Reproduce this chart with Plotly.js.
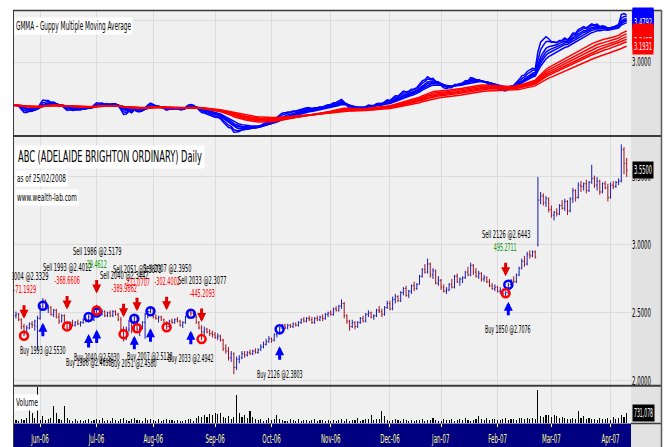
<!DOCTYPE html>
<html>
<head>
<meta charset="utf-8">
<script src="https://cdn.plot.ly/plotly-3.0.1.min.js"></script>
<style>html,body{margin:0;padding:0;background:#fff;}#chart{width:666px;height:447px;}</style>
</head>
<body>
<div id="chart"></div>
<script>
// ---------- DATA ----------
const startDate = '2006-05-18';
const endDate = '2007-04-12';
const holidays = ['2006-06-12','2006-12-25','2006-12-26','2007-01-01','2007-01-26','2007-04-06','2007-04-09'];

const tickDates = ['2006-06-01','2006-07-03','2006-08-01','2006-09-01','2006-10-02','2006-11-01','2006-12-01','2007-01-02','2007-02-01','2007-03-01','2007-04-02'];
const tickLabels = ['Jun-06','Jul-06','Aug-06','Sep-06','Oct-06','Nov-06','Dec-06','Jan-07','Feb-07','Mar-07','Apr-07'];

const openP = [
2.47,2.48,2.49,2.45,2.40,2.35,2.39,2.42,2.41,2.40,
2.46,2.55,2.59,2.53,2.54,2.49,2.52,2.47,2.44,2.48,
2.42,2.39,2.43,2.41,2.43,2.42,2.43,2.45,2.44,2.47,
2.45,2.51,2.54,2.50,2.51,2.48,2.50,2.48,2.51,2.49,
2.45,2.38,2.31,2.38,2.44,2.37,2.47,2.38,2.40,2.43,
2.49,2.51,2.53,2.47,2.46,2.47,2.45,2.42,2.40,2.44,
2.43,2.45,2.44,2.41,2.43,2.47,2.51,2.50,2.47,2.43,
2.39,2.36,2.38,2.36,2.35,2.34,2.32,2.33,2.30,2.24,
2.22,2.17,2.20,2.10,2.16,2.17,2.20,2.19,2.21,2.20,
2.22,2.21,2.23,2.25,2.27,2.29,2.31,2.30,2.34,2.35,
2.39,2.41,2.39,2.41,2.40,2.42,2.41,2.43,2.45,2.44,
2.46,2.45,2.43,2.46,2.45,2.47,2.46,2.49,2.50,2.49,
2.53,2.52,2.55,2.57,2.48,2.44,2.40,2.43,2.40,2.43,
2.46,2.44,2.49,2.50,2.47,2.48,2.52,2.51,2.49,2.54,
2.57,2.53,2.60,2.62,2.59,2.65,2.68,2.63,2.66,2.70,
2.68,2.71,2.77,2.82,2.80,2.86,2.78,2.81,2.72,2.74,
2.69,2.66,2.67,2.71,2.69,2.77,2.73,2.75,2.76,2.80,
2.78,2.85,2.80,2.77,2.79,2.75,2.76,2.73,2.70,2.68,
2.69,2.66,2.67,2.64,2.65,2.71,2.74,2.73,2.78,2.83,
2.88,2.86,2.93,2.92,2.95,3.00,3.33,3.36,3.31,3.34,
3.26,3.22,3.24,3.23,3.29,3.27,3.32,3.25,3.34,3.40,
3.35,3.44,3.43,3.45,3.40,3.46,3.49,3.44,3.47,3.39,
3.45,3.42,3.35,3.44,3.43,3.46,3.47,3.70,3.60];

const highP = [
2.50,2.51,2.50,2.46,2.42,2.41,2.43,2.44,2.45,2.48,
2.56,2.61,2.60,2.56,2.55,2.53,2.53,2.50,2.49,2.49,
2.44,2.44,2.45,2.44,2.45,2.44,2.46,2.47,2.49,2.50,
2.52,2.56,2.55,2.53,2.52,2.51,2.52,2.52,2.52,2.50,
2.47,2.40,2.40,2.45,2.46,2.48,2.48,2.42,2.44,2.50,
2.52,2.55,2.54,2.49,2.48,2.48,2.46,2.44,2.45,2.46,
2.46,2.47,2.45,2.44,2.48,2.52,2.53,2.51,2.49,2.44,
2.41,2.40,2.39,2.38,2.37,2.36,2.35,2.34,2.31,2.27,
2.25,2.22,2.21,2.18,2.19,2.22,2.22,2.22,2.23,2.23,
2.24,2.24,2.27,2.29,2.31,2.33,2.32,2.35,2.37,2.40,
2.42,2.42,2.42,2.42,2.43,2.43,2.44,2.46,2.47,2.47,
2.48,2.47,2.47,2.48,2.48,2.49,2.50,2.51,2.52,2.54,
2.55,2.56,2.60,2.58,2.49,2.45,2.45,2.44,2.44,2.47,
2.48,2.50,2.52,2.51,2.49,2.53,2.55,2.53,2.55,2.59,
2.59,2.62,2.64,2.63,2.66,2.69,2.70,2.67,2.71,2.73,
2.72,2.78,2.83,2.86,2.90,2.87,2.83,2.82,2.77,2.75,
2.71,2.69,2.72,2.75,2.78,2.79,2.76,2.77,2.81,2.84,
2.87,2.86,2.83,2.81,2.80,2.78,2.77,2.75,2.72,2.71,
2.70,2.69,2.68,2.66,2.72,2.75,2.77,2.79,2.84,2.90,
2.92,2.95,2.96,2.96,2.96,3.50,3.39,3.38,3.36,3.35,
3.29,3.25,3.27,3.30,3.33,3.34,3.33,3.35,3.42,3.41,
3.46,3.47,3.46,3.48,3.47,3.59,3.51,3.50,3.48,3.46,
3.47,3.45,3.46,3.47,3.47,3.49,3.74,3.72,3.64];

const lowP = [
2.45,2.46,2.44,2.38,2.33,2.34,2.38,2.39,2.37,2.23,
2.45,2.53,2.52,2.50,2.48,2.47,2.46,2.42,2.43,2.40,
2.37,2.38,2.40,2.40,2.41,2.40,2.42,2.43,2.43,2.44,
2.44,2.50,2.49,2.48,2.47,2.47,2.47,2.47,2.48,2.44,
2.36,2.29,2.30,2.36,2.35,2.36,2.37,2.33,2.38,2.31,
2.46,2.50,2.46,2.45,2.43,2.44,2.40,2.38,2.39,2.42,
2.42,2.43,2.40,2.39,2.42,2.46,2.48,2.46,2.42,2.38,
2.30,2.34,2.35,2.33,2.32,2.31,2.30,2.29,2.22,2.20,
2.15,2.14,2.05,2.08,2.13,2.16,2.17,2.18,2.19,2.19,
2.20,2.20,2.22,2.24,2.26,2.28,2.28,2.29,2.32,2.34,
2.38,2.38,2.38,2.39,2.39,2.40,2.40,2.42,2.43,2.43,
2.44,2.42,2.42,2.44,2.44,2.44,2.45,2.47,2.48,2.48,
2.51,2.51,2.53,2.46,2.42,2.37,2.39,2.38,2.39,2.42,
2.43,2.43,2.47,2.46,2.45,2.47,2.50,2.47,2.48,2.53,
2.52,2.52,2.57,2.58,2.58,2.63,2.62,2.61,2.64,2.66,
2.67,2.71,2.76,2.79,2.79,2.76,2.75,2.71,2.70,2.67,
2.65,2.64,2.66,2.68,2.68,2.72,2.70,2.72,2.75,2.77,
2.77,2.78,2.76,2.75,2.73,2.73,2.72,2.69,2.67,2.66,
2.65,2.64,2.63,2.62,2.64,2.70,2.72,2.72,2.77,2.82,
2.84,2.85,2.90,2.91,2.90,2.99,3.30,3.29,3.28,3.24,
3.20,3.18,3.21,3.22,3.26,3.25,3.22,3.24,3.31,3.32,
3.34,3.39,3.40,3.38,3.39,3.45,3.42,3.40,3.37,3.38,
3.41,3.32,3.34,3.41,3.42,3.44,3.46,3.52,3.50];

const closeP = [
2.48,2.49,2.45,2.40,2.35,2.39,2.42,2.41,2.44,2.46,
2.55,2.59,2.53,2.54,2.49,2.52,2.47,2.44,2.48,2.42,
2.39,2.43,2.41,2.43,2.42,2.43,2.45,2.44,2.47,2.45,
2.51,2.54,2.50,2.51,2.48,2.50,2.48,2.51,2.49,2.45,
2.38,2.31,2.38,2.44,2.37,2.47,2.38,2.40,2.43,2.49,
2.51,2.53,2.47,2.46,2.47,2.45,2.42,2.40,2.44,2.43,
2.45,2.44,2.41,2.43,2.47,2.51,2.50,2.47,2.43,2.39,
2.36,2.38,2.36,2.35,2.34,2.32,2.33,2.30,2.24,2.22,
2.17,2.20,2.10,2.16,2.17,2.20,2.19,2.21,2.20,2.22,
2.21,2.23,2.25,2.27,2.29,2.31,2.30,2.34,2.35,2.39,
2.41,2.39,2.41,2.40,2.42,2.41,2.43,2.45,2.44,2.46,
2.45,2.43,2.46,2.45,2.47,2.46,2.49,2.50,2.49,2.53,
2.52,2.55,2.57,2.48,2.44,2.40,2.43,2.40,2.43,2.46,
2.44,2.49,2.50,2.47,2.48,2.52,2.51,2.49,2.54,2.57,
2.53,2.60,2.62,2.59,2.65,2.68,2.63,2.66,2.70,2.68,
2.71,2.77,2.82,2.80,2.86,2.78,2.81,2.72,2.74,2.69,
2.66,2.67,2.71,2.69,2.77,2.73,2.75,2.76,2.80,2.78,
2.85,2.80,2.77,2.79,2.75,2.76,2.73,2.70,2.68,2.69,
2.66,2.67,2.64,2.65,2.71,2.74,2.73,2.78,2.83,2.88,
2.86,2.93,2.92,2.95,2.91,3.33,3.36,3.31,3.34,3.26,
3.22,3.24,3.23,3.29,3.27,3.32,3.25,3.34,3.40,3.35,
3.44,3.43,3.45,3.40,3.46,3.49,3.44,3.47,3.39,3.45,
3.42,3.35,3.44,3.43,3.46,3.47,3.70,3.60,3.55];

// volume in thousands of shares
const volumeK = [
180,240,150,300,220,360,940,720,330,3500,
250,510,220,300,380,1230,720,290,240,1230,380,
200,150,260,180,220,150,250,300,180,220,
280,200,330,150,220,180,350,200,150,260,
330,220,180,290,360,250,200,150,330,240,
300,200,180,260,150,220,300,190,230,160,
250,180,150,220,300,260,180,330,
510,440,580,400,620,550,720,650,720,
430,360,500,290,400,
2050,
720,430,580,360,870,400,260,
220,300,180,250,330,200,260,580,300,220,
180,150,260,220,180,300,150,200,250,180,
220,290,160,200,250,180,220,150,
200,180,220,260,180,300,150,220,250,360,180,220,
260,300,580,220,300,260,870,500,220,180,
250,300,200,180,260,220,150,200,180,250,
220,290,180,250,200,330,220,180,150,260,
200,250,300,180,220,260,200,330,250,180,
220,300,500,260,200,330,220,260,300,250,
200,280,330,220,260,300,250,330,360,280,
330,290,360,300,
2400,
500,440,580,580,400,580,500,330,440,360,290,
300,360,260,870,360,500,290,330,260,
300,220,360,260,300,330,220,400,290,330,580,400,731.078];

const shortPeriods = [3,5,8,10,12,15];
const longPeriods = [30,35,40,45,50,60];

// trades: bar index, shares, price, profit
const buyIdx    = [11, 28, 31, 45, 51, 66, 99, 184];
const buyShares = [1993, 1986, 2040, 2051, 2007, 2033, 2126, 1850];
const buyPrice  = [2.5530, 2.4698, 2.5030, 2.4580, 2.5128, 2.4942, 2.3803, 2.7076];

const sellIdx    = [4, 20, 31, 41, 46, 57, 70, 183];
const sellShares = [2004, 1993, 1986, 2040, 2051, 2007, 2033, 2126];
const sellPrice  = [2.3329, 2.4012, 2.5179, 2.3442, 2.3873, 2.3950, 2.3077, 2.6443];
const sellProfit = [-71.1929, -368.6606, 29.4612, -389.9862, -211.0707, -302.4002, -445.2093, 495.2711];

// ---------- BUILD ----------
function tradingDays(s, e, hol) {
  const out = [];
  const d = new Date(s + 'T00:00:00Z');
  const end = new Date(e + 'T00:00:00Z');
  while (d <= end) {
    const wd = d.getUTCDay();
    const iso = d.toISOString().slice(0, 10);
    if (wd !== 0 && wd !== 6 && hol.indexOf(iso) < 0) out.push(iso);
    d.setUTCDate(d.getUTCDate() + 1);
  }
  return out;
}
const dates = tradingDays(startDate, endDate, holidays);
const volume = volumeK.map(v => Math.round(v * 1000));

function ema(arr, n) {
  const k = 2 / (n + 1);
  const out = [];
  let e = arr[0];
  for (let i = 0; i < arr.length; i++) {
    if (i > 0) e = e + k * (arr[i] - e);
    out.push(e);
  }
  return out;
}

const FONT = '"DejaVu Sans","Liberation Sans",sans-serif';
const BLUE = '#0000ff', RED = '#ff0000';

const traces = [];
shortPeriods.forEach(p => traces.push({
  type: 'scatter', mode: 'lines', x: dates, y: ema(closeP, p), xaxis: 'x', yaxis: 'y',
  line: { color: BLUE, width: 1.5 }, hoverinfo: 'skip'
}));
longPeriods.forEach(p => traces.push({
  type: 'scatter', mode: 'lines', x: dates, y: ema(closeP, p), xaxis: 'x', yaxis: 'y',
  line: { color: RED, width: 1.5 }, hoverinfo: 'skip'
}));
traces.push({
  type: 'ohlc', x: dates, open: openP, high: highP, low: lowP, close: closeP,
  xaxis: 'x2', yaxis: 'y2', tickwidth: 0.35,
  increasing: { line: { color: '#1c1cb4', width: 1 } },
  decreasing: { line: { color: '#a3101e', width: 1 } },
  hoverinfo: 'skip'
});
traces.push({
  type: 'scatter', mode: 'markers', x: buyIdx.map(i => dates[i]), y: buyPrice,
  xaxis: 'x2', yaxis: 'y2',
  marker: { symbol: 'circle-open', size: 8, color: BLUE, line: { width: 2.5 } }, hoverinfo: 'skip'
});
traces.push({
  type: 'scatter', mode: 'markers', x: sellIdx.map(i => dates[i]), y: sellPrice,
  xaxis: 'x2', yaxis: 'y2',
  marker: { symbol: 'circle-open', size: 8, color: RED, line: { width: 2.5 } }, hoverinfo: 'skip'
});
traces.push({
  type: 'bar', x: dates, y: volume, xaxis: 'x3', yaxis: 'y3',
  marker: { color: '#000000', line: { width: 0 } }, width: 0.4, hoverinfo: 'skip'
});

// ---------- ANNOTATIONS ----------
const ann = [];
const annW = [];               // target rendered width (px) of each annotation's text, null = natural
function addAnn(a, w) { ann.push(a); annW.push(w || null); }
const fmt4 = v => v.toFixed(4);
const perChar = 2.85;

sellIdx.forEach((ix, k) => {
  addAnn({ x: ix, y: sellPrice[k], xref: 'x2', yref: 'y2', text: '', showarrow: true,
    arrowhead: 2, arrowsize: 0.6, arrowwidth: 3, arrowcolor: '#e00000', ax: 0, ay: -15, yshift: 17 });
  const pt = sellProfit[k].toFixed(4);
  addAnn({ x: ix, y: sellPrice[k], xref: 'x2', yref: 'y2', showarrow: false, yshift: 46, text: pt,
    font: { family: FONT, size: 11, color: sellProfit[k] < 0 ? '#ff0000' : '#009900' } }, pt.length * perChar);
  const st = 'Sell ' + sellShares[k] + ' @' + fmt4(sellPrice[k]);
  addAnn({ x: ix, y: sellPrice[k], xref: 'x2', yref: 'y2', showarrow: false, yshift: 59, text: st,
    font: { family: FONT, size: 11, color: '#000' } }, st.length * perChar);
});
buyIdx.forEach((ix, k) => {
  addAnn({ x: ix, y: buyPrice[k], xref: 'x2', yref: 'y2', text: '', showarrow: true,
    arrowhead: 2, arrowsize: 0.6, arrowwidth: 3, arrowcolor: '#0000ff', ax: 0, ay: 15, yshift: -17 });
  const bt = 'Buy ' + buyShares[k] + ' @' + fmt4(buyPrice[k]);
  addAnn({ x: ix, y: buyPrice[k], xref: 'x2', yref: 'y2', showarrow: false, yshift: -45, text: bt,
    font: { family: FONT, size: 11, color: '#000' } }, bt.length * perChar);
});
// cover the part of the first label that lies outside the chart frame
addAnn({ xref: 'paper', yref: 'paper', x: -0.5 / 618, xanchor: 'right', y: (423 - 276) / 412, yanchor: 'middle',
  text: ' ', width: 13, height: 38, bgcolor: '#ffffff', showarrow: false });

// titles
addAnn({ xref: 'paper', yref: 'paper', x: 1 / 618, y: (423 - 26) / 412, xanchor: 'left', yanchor: 'middle',
  text: 'GMMA - Guppy Multiple Moving Average', showarrow: false, bgcolor: '#ffffff', borderpad: 1,
  font: { family: FONT, size: 12, color: '#000' } }, 115);
addAnn({ xref: 'paper', yref: 'paper', x: 2 / 618, y: (423 - 157) / 412, xanchor: 'left', yanchor: 'middle',
  text: 'ABC (ADELAIDE BRIGHTON ORDINARY) Daily', showarrow: false, bgcolor: '#ffffff', borderpad: 2,
  font: { family: FONT, size: 15, color: '#000' } }, 184);
addAnn({ xref: 'paper', yref: 'paper', x: 2 / 618, y: (423 - 178) / 412, xanchor: 'left', yanchor: 'middle',
  text: 'as of 25/02/2008', showarrow: false, bgcolor: '#ffffff', borderpad: 1,
  font: { family: FONT, size: 11, color: '#000' } }, 49);
addAnn({ xref: 'paper', yref: 'paper', x: 2 / 618, y: (423 - 197) / 412, xanchor: 'left', yanchor: 'middle',
  text: 'www.wealth-lab.com', showarrow: false, bgcolor: '#ffffff', borderpad: 1,
  font: { family: FONT, size: 11, color: '#000' } }, 60);
addAnn({ xref: 'paper', yref: 'paper', x: 1 / 618, y: (423 - 402) / 412, xanchor: 'left', yanchor: 'middle',
  text: 'Volume', showarrow: false, bgcolor: '#ffffff', borderpad: 1,
  font: { family: FONT, size: 11, color: '#000' } }, 22);

// last-value labels in the right column
shortPeriods.forEach(p => {
  const e = ema(closeP, p); const v = e[e.length - 1];
  addAnn({ xref: 'paper', yref: 'y', x: 1 + 0.5 / 618, xanchor: 'left', y: v, yanchor: 'middle',
    text: fmt4(v), showarrow: false, bgcolor: BLUE, borderpad: 1, font: { family: FONT, size: 11, color: '#fff' } }, 18);
});
longPeriods.forEach(p => {
  const e = ema(closeP, p); const v = e[e.length - 1];
  addAnn({ xref: 'paper', yref: 'y', x: 1 + 0.5 / 618, xanchor: 'left', y: v, yanchor: 'middle',
    text: fmt4(v), showarrow: false, bgcolor: RED, borderpad: 1, font: { family: FONT, size: 11, color: '#fff' } }, 18);
});
addAnn({ xref: 'paper', yref: 'y2', x: 1 + 0.5 / 618, xanchor: 'left', y: closeP[closeP.length - 1], yanchor: 'middle',
  text: fmt4(closeP[closeP.length - 1]), showarrow: false, bgcolor: '#000', borderpad: 1,
  font: { family: FONT, size: 12, color: '#fff' } }, 18);
addAnn({ xref: 'paper', yref: 'y3', x: 1 + 0.5 / 618, xanchor: 'left', y: volume[volume.length - 1], yanchor: 'middle',
  text: volume[volume.length - 1].toLocaleString('en-US'), showarrow: false, bgcolor: '#000', borderpad: 1,
  font: { family: FONT, size: 12, color: '#fff' } }, 19);

// ---------- LAYOUT ----------
const py = Y => (423 - Y) / 412;      // pixel row -> paper y
const px = X => (X - 13) / 618;       // pixel col -> paper x
const xBase = {
  type: 'category', categoryorder: 'array', categoryarray: dates,
  range: [-0.1, 229.6], tickvals: tickDates, ticktext: tickLabels,
  showgrid: true, gridcolor: '#dcdcdc', gridwidth: 1, zeroline: false, showline: false,
  fixedrange: true, showticklabels: false, ticks: ''
};
const yBase = {
  side: 'right', showgrid: true, gridcolor: '#dcdcdc', gridwidth: 1, zeroline: false, showline: false,
  ticks: '', tickformat: '.4f', fixedrange: true, automargin: false,
  tickfont: { family: FONT, size: 12, color: '#000' }
};
const layout = {
  width: 666, height: 447,
  margin: { l: 13, r: 35, t: 11, b: 24, pad: 0 },
  paper_bgcolor: '#ffffff', plot_bgcolor: '#f0f0f0',
  showlegend: false, hovermode: false, bargap: 0,
  font: { family: FONT, size: 10, color: '#000' },
  xaxis: Object.assign({}, xBase, { anchor: 'y' }),
  xaxis2: Object.assign({}, xBase, { anchor: 'y2', matches: 'x', rangeslider: { visible: false } }),
  xaxis3: Object.assign({}, xBase, { anchor: 'y3', matches: 'x', showticklabels: true, ticks: 'outside',
    ticklen: 3, tickwidth: 1, tickcolor: '#ffff99', tickfont: { family: FONT, size: 13, color: '#ffff99' } }),
  yaxis: Object.assign({}, yBase, { anchor: 'x', domain: [py(135), 1], range: [2.12, 3.62], tickvals: [3.0, 3.5] }),
  yaxis2: Object.assign({}, yBase, { anchor: 'x2', domain: [py(384.5), py(137)], range: [1.974, 3.794], tickvals: [2.0, 2.5, 3.0, 3.5] }),
  yaxis3: Object.assign({}, yBase, { anchor: 'x3', domain: [0, py(387)], range: [0, 2600000], showticklabels: false, showgrid: false }),
  annotations: ann,
  shapes: [
    { type: 'rect', xref: 'paper', yref: 'paper', x0: 1, x1: px(661), y0: py(447), y1: py(10), fillcolor: '#e2e2e2', line: { width: 0 }, layer: 'below' },
    { type: 'rect', xref: 'paper', yref: 'paper', x0: 0, x1: 1, y0: py(447), y1: py(423.5), fillcolor: '#000080', line: { width: 0 }, layer: 'below' },
    { type: 'line', xref: 'paper', yref: 'paper', x0: 0, x1: px(662), y0: py(10.5), y1: py(10.5), line: { color: '#3a3a3a', width: 1.5 } },
    { type: 'line', xref: 'paper', yref: 'paper', x0: 0, x1: px(662), y0: py(136), y1: py(136), line: { color: '#3a3a3a', width: 2 } },
    { type: 'line', xref: 'paper', yref: 'paper', x0: 0, x1: px(662), y0: py(385.7), y1: py(385.7), line: { color: '#3a3a3a', width: 2 } },
    { type: 'line', xref: 'paper', yref: 'paper', x0: 1, x1: px(662), y0: py(423.5), y1: py(423.5), line: { color: '#3a3a3a', width: 1.5 } },
    { type: 'line', xref: 'paper', yref: 'paper', x0: px(13.5), x1: px(13.5), y0: py(447), y1: py(10), line: { color: '#3a3a3a', width: 1 } },
    { type: 'line', xref: 'paper', yref: 'paper', x0: px(661.5), x1: px(661.5), y0: py(447), y1: py(10), line: { color: '#5a5a5a', width: 1.5 } }
  ]
};

// narrow the glyphs of a text element to a target width, keeping its centre or its left edge
function squeezeTo(t, target, keep) {
  if (!t || !target) return;
  const w = t.getComputedTextLength();
  if (!w || !t.textContent.trim() || target >= w) return;
  const b0 = t.getBBox();
  t.setAttribute('textLength', target.toFixed(2));
  t.setAttribute('lengthAdjust', 'spacingAndGlyphs');
  const b1 = t.getBBox();
  const shift = keep === 'left' ? (b0.x - b1.x) : ((b0.x + b0.width / 2) - (b1.x + b1.width / 2));
  if (Math.abs(shift) > 0.01) {
    const x = parseFloat(t.getAttribute('x') || '0');
    t.setAttribute('x', (x + shift).toFixed(2));
  }
}

Plotly.newPlot('chart', traces, layout, { staticPlot: true, displayModeBar: false }).then(gd => {
  gd.querySelectorAll('g.xtick text, g.x2tick text, g.x3tick text').forEach(t => {
    squeezeTo(t, t.getComputedTextLength() * 0.42, 'center');
  });
  gd.querySelectorAll('g.ytick text, g.y2tick text, g.y3tick text').forEach(t => squeezeTo(t, 19, 'left'));
  gd.querySelectorAll('g.annotation').forEach(g => {
    const i = +g.getAttribute('data-index');
    const a = ann[i];
    const t = g.querySelector('text.annotation-text');
    if (!annW[i] || !t) return;
    squeezeTo(t, annW[i], 'center');
    if (a.bgcolor && a.xanchor === 'left') {
      const rect = g.querySelector('rect.bg');
      if (!rect) return;
      const pad = (a.borderpad != null ? a.borderpad : 1) + 0.5;
      const rx = parseFloat(rect.getAttribute('x') || '0');
      const bb = t.getBBox();
      rect.setAttribute('width', (bb.width + 2 * pad).toFixed(2));
      const dx = (rx + pad) - bb.x;
      t.setAttribute('x', (parseFloat(t.getAttribute('x') || '0') + dx).toFixed(2));
    }
  });
});
</script>
</body>
</html>
